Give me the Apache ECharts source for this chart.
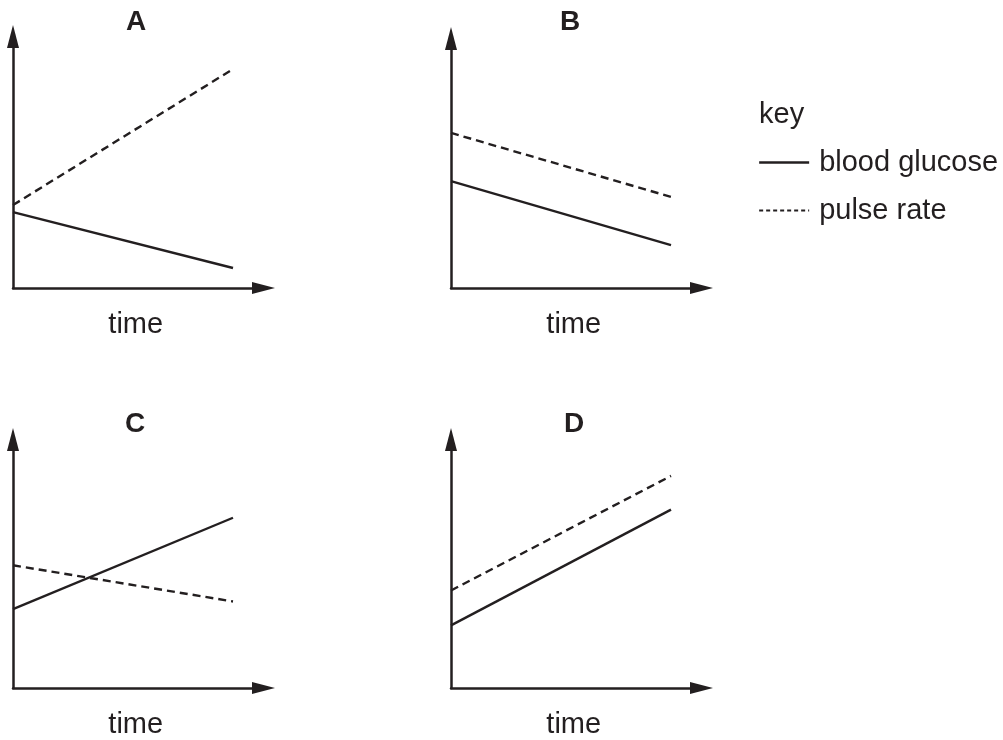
<!DOCTYPE html>
<html><head><meta charset="utf-8">
<script src="https://cdn.jsdelivr.net/npm/echarts@6/dist/echarts.min.js"></script>
<style>html,body{margin:0;padding:0;background:#fff}#c{width:1003px;height:740px}</style>
</head><body><div id="c"></div>
<script>
const panels = ['A', 'B', 'C', 'D'];
const timePoints = [0, 10];
const glucose = {
  A: [3.45, 0.91],
  B: [4.86, 1.95],
  C: [3.6, 7.77],
  D: [2.86, 8.14]
};
const pulse = {
  A: [3.77, 9.95],
  B: [7.05, 4.14],
  C: [5.6, 3.95],
  D: [4.45, 9.68]
};
const xLabel = 'time';
const keyTitle = 'key';
const seriesNames = ['blood glucose', 'pulse rate'];

const ink = '#231f20';
const font = '"Liberation Sans", Arial, sans-serif';
const layout = {
  A: {left: 13, bottom: 288, tip: 25, tx: 136, ty: 8},
  B: {left: 451, bottom: 288, tip: 27, tx: 570, ty: 8},
  C: {left: 13, bottom: 689, tip: 428, tx: 135, ty: 410},
  D: {left: 451, bottom: 689, tip: 428, tx: 574, ty: 410}
};
const half = 11.5;
const grids = [], xAxes = [], yAxes = [], series = [], titles = [];
panels.forEach((p, i) => {
  const L = layout[p];
  const w = 262 - half;
  const top = L.tip + half;
  const h = L.bottom - top;
  grids.push({left: L.left, top: top, width: w, height: h, containLabel: false});
  const axisLine = {show: true, onZero: false, symbol: ['none', 'triangle'], symbolSize: [12, 23],
    lineStyle: {color: ink, width: 2.5}};
  xAxes.push({type: 'value', gridIndex: i, min: 0, max: w / 22, axisLine, axisTick: {show: false},
    axisLabel: {show: false}, splitLine: {show: false},
    name: xLabel, nameLocation: 'middle', nameGap: 22,
    nameTextStyle: {color: ink, fontSize: 29, fontFamily: font, verticalAlign: 'top', padding: [0, 5, 0, 0]}});
  yAxes.push({type: 'value', gridIndex: i, min: 0, max: h / 22, axisLine, axisTick: {show: false},
    axisLabel: {show: false}, splitLine: {show: false}});
  titles.push({text: p, left: L.tx, top: L.ty, textAlign: 'center', padding: 0,
    textStyle: {color: ink, fontSize: 28, fontWeight: 'bold', fontFamily: font}});
  series.push({name: seriesNames[0], type: 'line', xAxisIndex: i, yAxisIndex: i, symbol: 'none',
    data: timePoints.map((t, k) => [t, glucose[p][k]]),
    lineStyle: {color: ink, width: 2.4, type: 'solid'}, itemStyle: {color: ink}, silent: true});
  series.push({name: seriesNames[1], type: 'line', xAxisIndex: i, yAxisIndex: i, symbol: 'none',
    data: timePoints.map((t, k) => [t, pulse[p][k]]),
    lineStyle: {color: ink, width: 2.4, type: [8, 5]}, itemStyle: {color: ink}, silent: true});
});
titles.push({text: keyTitle, left: 759, top: 100, padding: 0,
  textStyle: {color: ink, fontSize: 29, fontWeight: 'normal', fontFamily: font}});

const hidden = {color: 'rgba(0,0,0,0)', borderWidth: 0, opacity: 0};
const chart = echarts.init(document.getElementById('c'), null, {renderer: 'canvas'});
chart.setOption({
  animation: false,
  backgroundColor: '#fff',
  title: titles,
  legend: {
    orient: 'vertical', left: 758, top: 148, padding: 0, itemWidth: 50, itemHeight: 22, itemGap: 19,
    selectedMode: false,
    data: [
      {name: seriesNames[0], itemStyle: hidden, lineStyle: {color: ink, width: 2.3, type: 'solid'}},
      {name: seriesNames[1], itemStyle: hidden, lineStyle: {color: ink, width: 2, type: [4, 3]}}
    ],
    textStyle: {color: ink, fontSize: 29, fontFamily: font, padding: [0, 0, 0, 5]}
  },
  grid: grids, xAxis: xAxes, yAxis: yAxes, series
});
</script></body></html>
